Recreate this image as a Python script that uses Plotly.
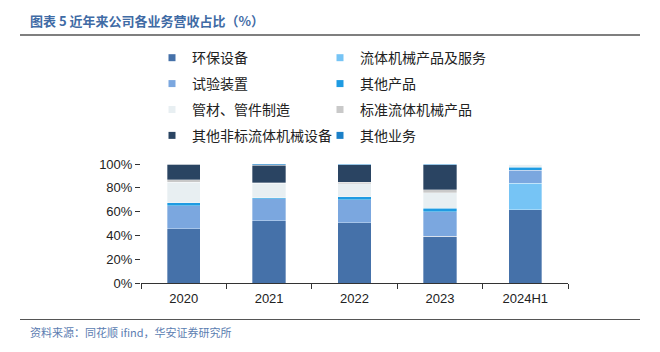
import plotly.graph_objects as go

categories = ["2020", "2021", "2022", "2023", "2024H1"]
series_names = ["环保设备", "流体机械产品及服务", "试验装置", "其他产品",
                "管材、管件制造", "标准流体机械产品", "其他非标流体机械设备", "其他业务"]
env_equipment = [45.6, 52.4, 50.7, 39.2, 61.4]
fluid_products_services = [0.0, 0.0, 0.0, 0.0, 22.5]
test_devices = [19.2, 18.3, 19.2, 20.6, 10.7]
other_products = [2.8, 1.1, 2.5, 3.1, 2.8]
pipe_manufacturing = [17.0, 12.1, 11.0, 13.0, 2.6]
standard_fluid = [2.0, 0.5, 1.4, 2.3, 0.0]
other_nonstandard = [13.2, 14.7, 14.6, 21.0, 0.0]
other_business = [0.2, 0.9, 0.6, 0.8, 0.0]
y_ticks = [0, 20, 40, 60, 80, 100]
y_tick_labels = ["0%", "20%", "40%", "60%", "80%", "100%"]

values = [env_equipment, fluid_products_services, test_devices, other_products,
          pipe_manufacturing, standard_fluid, other_nonstandard, other_business]
colors = ["#4571A9", "#76C4F5", "#7BA7DF", "#1E9BE2",
          "#E8EFF2", "#C9C9C9", "#2A4462", "#1B80C8"]

W, H = 660, 352
L, R = 141, 568
T, B = 164.3, 282.7


def px(x):
    return (x - L) / (R - L)


def py(y):
    return (B - y) / (B - T)


fig = go.Figure()
for name, vals, col in zip(series_names, values, colors):
    fig.add_trace(go.Bar(
        x=categories, y=vals, name=name, marker_color=col,
        marker_line=dict(width=0.6, color="rgba(255,255,255,0.55)"),
        showlegend=False,
    ))

left_col = [0, 2, 4, 6]
right_col = [1, 3, 5, 7]
for i, (name, col) in enumerate(zip(series_names, colors)):
    fig.add_trace(go.Scatter(
        x=[None], y=[None], mode="markers", name=name,
        marker=dict(symbol="square", size=7, color=col),
        legend="legend" if i in left_col else "legend2",
        legendgroup=f"g{i}",
    ))

legend_common = dict(
    orientation="v", traceorder="grouped", bgcolor="rgba(0,0,0,0)",
    font=dict(family="Noto Sans CJK SC", size=14, color="#222222"),
    tracegroupgap=4.7, xanchor="left", yanchor="top", itemsizing="trace",
)
fig.update_layout(
    legend=dict(x=px(152), y=py(43), **legend_common),
    legend2=dict(x=px(320), y=py(43), **legend_common),
)

fig.update_layout(
    width=W, height=H,
    margin=dict(l=L, r=W - R, t=T, b=H - B, pad=0),
    barmode="stack", bargap=0.61,
    plot_bgcolor="white", paper_bgcolor="white",
    font=dict(family="Liberation Sans, Arial", size=13, color="#222222"),
    xaxis=dict(showline=True, linecolor="#333333", linewidth=1,
               ticks="outside", tickson="boundaries", ticklen=5,
               tickcolor="#333333", showgrid=False, ticklabelstandoff=3,
               tickfont=dict(size=13, family="Liberation Sans, Arial", color="#222222")),
    yaxis=dict(range=[0, 100], tickvals=y_ticks, ticktext=y_tick_labels,
               showline=False, showgrid=False, zeroline=False,
               ticks="outside", ticklen=5, tickcolor="#333333",
               tickfont=dict(size=13, family="Liberation Sans, Arial", color="#222222")),
)

fig.add_annotation(
    text="<b>图表 5 近年来公司各业务营收占比（%）</b>", xref="paper", yref="paper",
    x=px(28), y=py(22), xanchor="left", yanchor="middle", showarrow=False,
    font=dict(family="Noto Sans CJK SC", size=13, color="#3F6BA5"),
)
fig.add_shape(type="line", xref="paper", yref="paper",
              x0=px(20), x1=px(640), y0=py(36), y1=py(36),
              line=dict(color="#555555", width=1.5))
fig.add_shape(type="line", xref="paper", yref="paper",
              x0=px(20), x1=px(640), y0=py(319), y1=py(319),
              line=dict(color="#555555", width=1.2))
fig.add_annotation(
    text="资料来源：同花顺 ifind，华安证券研究所", xref="paper", yref="paper",
    x=px(28), y=py(331), xanchor="left", yanchor="middle", showarrow=False,
    font=dict(family="Noto Sans CJK SC", size=11, color="#5B7DB1"),
)

fig.write_html("out.html")
